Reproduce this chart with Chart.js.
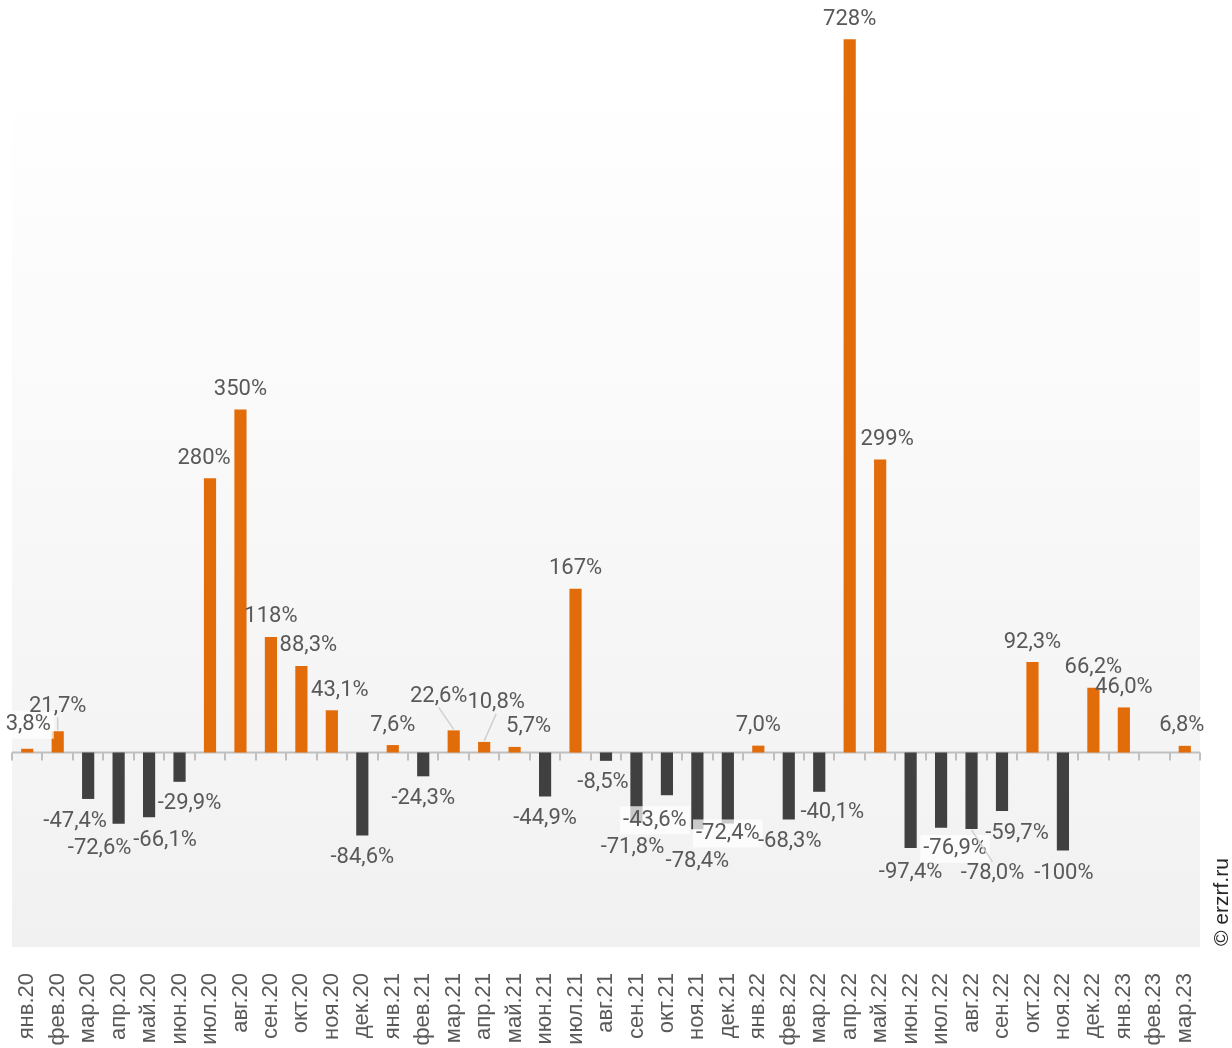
<!DOCTYPE html>
<html lang="ru">
<head>
<meta charset="utf-8">
<title>Динамика</title>
<script src="https://cdn.jsdelivr.net/npm/chart.js@4/dist/chart.umd.min.js"></script>
<style>
    html, body { margin: 0; padding: 0; background: #ffffff; }
    #box { width: 1232px; height: 1048px; position: relative; }
</style>
</head>
<body>
<div id="box"><canvas id="grafico"></canvas></div>
<script>
// месяцы
const meses = ['янв.20', 'фев.20', 'мар.20', 'апр.20', 'май.20', 'июн.20', 'июл.20', 'авг.20', 'сен.20', 'окт.20', 'ноя.20', 'дек.20',
    'янв.21', 'фев.21', 'мар.21', 'апр.21', 'май.21', 'июн.21', 'июл.21', 'авг.21', 'сен.21', 'окт.21', 'ноя.21', 'дек.21',
    'янв.22', 'фев.22', 'мар.22', 'апр.22', 'май.22', 'июн.22', 'июл.22', 'авг.22', 'сен.22', 'окт.22', 'ноя.22', 'дек.22',
    'янв.23', 'фев.23', 'мар.23']

// изменение, %
const valores = [3.8, 21.7, -47.4, -72.6, -66.1, -29.9, 280, 350, 118, 88.3, 43.1, -84.6,
    7.6, -24.3, 22.6, 10.8, 5.7, -44.9, 167, -8.5, -71.8, -43.6, -78.4, -72.4,
    7.0, -68.3, -40.1, 728, 299, -97.4, -76.9, -78.0, -59.7, 92.3, -100, 66.2,
    46.0, null, 6.8]

// limites do eixo
const eixoMin = -198.5
const eixoMax = 768

// deslocamento manual das etiquetas (como no original)
const etiquetaDx = [1, 0, -13, -19, 16, 10, -6, 0, 0, 7, 8, 0,
    0, 0, -15, 12, 14, 0, 0, -3, -4, -12, 0, 0,
    0, 1, 13, 0, 7, 0, 14, 21, 15, 0, 1, 0,
    0, 0, -3]
const etiquetaDy = [-4, -5, 1, 3, 1, 0, 0, 0, 0, 0, 0, 0,
    0, 0, -14, -19, 0, 0, 0, 0, 3, 3, 10, -12,
    0, 0, -1, 0, 0, 3, -1, 23, 0, 0, 1, 0,
    0, 0, 0]
const etiquetaFundo = [0, 21, 23, 30]
const etiquetaLinha = [1, 14, 15, 31]

const corPositivo = '#e36c0a'
const corNegativo = '#404040'

function formatar(v) {
    const txt = Math.abs(v) >= 100 ? v.toFixed(0) : v.toFixed(1)
    return txt.replace('.', ',') + '%'
}

// fundo em degradê + linha do zero com marcas
const fundoPlugin = {
    id: 'fundo',
    beforeDraw(chart) {
        const { ctx, chartArea: a } = chart
        const g = ctx.createLinearGradient(0, a.top, 0, a.bottom)
        g.addColorStop(0, '#ffffff')
        g.addColorStop(0.08, '#ffffff')
        g.addColorStop(1, '#f1f1f1')
        ctx.save()
        ctx.fillStyle = g
        ctx.fillRect(a.left, a.top, a.right - a.left, a.bottom - a.top)
        ctx.restore()
    },
    beforeDatasetsDraw(chart) {
        const { ctx, chartArea: a } = chart
        const y0 = chart.scales.y.getPixelForValue(0)
        const passo = (a.right - a.left) / meses.length
        ctx.save()
        ctx.strokeStyle = '#bfbfbf'
        ctx.lineWidth = 2
        ctx.beginPath()
        ctx.moveTo(a.left, y0)
        ctx.lineTo(a.right, y0)
        for (let i = 0; i <= meses.length; i++) {
            const x = Math.round(a.left + passo * i)
            ctx.moveTo(x, y0)
            ctx.lineTo(x, y0 + 8)
        }
        ctx.stroke()
        ctx.restore()
    }
}

// etiquetas de valor
const etiquetasPlugin = {
    id: 'etiquetas',
    afterDatasetsDraw(chart) {
        const { ctx } = chart
        const meta = chart.getDatasetMeta(0)
        ctx.save()
        ctx.font = '22px Roboto'
        ctx.textAlign = 'center'
        ctx.textBaseline = 'middle'
        meta.data.forEach((bar, i) => {
            const v = valores[i]
            if (v === null) return
            const txt = formatar(v)
            const x = bar.x + etiquetaDx[i]
            const y = (v >= 0 ? bar.y - 20 : bar.y + 22) + etiquetaDy[i]
            const w = ctx.measureText(txt).width

            if (etiquetaLinha.includes(i)) {
                ctx.strokeStyle = '#d0d0d0'
                ctx.lineWidth = 1.5
                ctx.beginPath()
                ctx.moveTo(bar.x, v >= 0 ? bar.y - 1 : bar.y + 1)
                ctx.lineTo(x, v >= 0 ? y + 11 : y - 12)
                ctx.stroke()
            }
            if (etiquetaFundo.includes(i)) {
                ctx.fillStyle = 'rgba(255,255,255,0.72)'
                ctx.fillRect(x - w / 2 - 3, y - 14, w + 6, 28)
            }
            ctx.fillStyle = '#595959'
            ctx.fillText(txt, x, y)
        })
        ctx.restore()
    },
    afterDraw(chart) {
        const { ctx } = chart
        ctx.save()
        ctx.translate(1222, 946)
        ctx.rotate(-Math.PI / 2)
        ctx.font = '21px "Liberation Sans"'
        ctx.fillStyle = '#262626'
        ctx.textAlign = 'left'
        ctx.textBaseline = 'middle'
        ctx.fillText('© erzrf.ru', 0, 0)
        ctx.restore()
    }
}

const ctx = document.getElementById('grafico').getContext('2d')

new Chart(ctx, {
    type: 'bar',
    data: {
        labels: meses,
        datasets: [{
            data: valores,
            backgroundColor: c => (c.raw !== null && c.raw < 0) ? corNegativo : corPositivo,
            barPercentage: 0.4,
            categoryPercentage: 1
        }]
    },
    options: {
        responsive: true,
        maintainAspectRatio: false,
        animation: false,
        layout: { padding: { left: 12, right: 32, top: 0, bottom: 0 } },
        plugins: {
            legend: { display: false },
            tooltip: { enabled: false }
        },
        scales: {
            x: {
                grid: { display: false },
                border: { display: false },
                afterFit(scale) { scale.height = 101 },
                ticks: {
                    minRotation: 90,
                    maxRotation: 90,
                    autoSkip: false,
                    padding: 18,
                    color: '#595959',
                    font: { family: '"Liberation Sans", Arial', size: 22 }
                }
            },
            y: {
                display: false,
                min: eixoMin,
                max: eixoMax
            }
        }
    },
    plugins: [fundoPlugin, etiquetasPlugin]
})
</script>
</body>
</html>
